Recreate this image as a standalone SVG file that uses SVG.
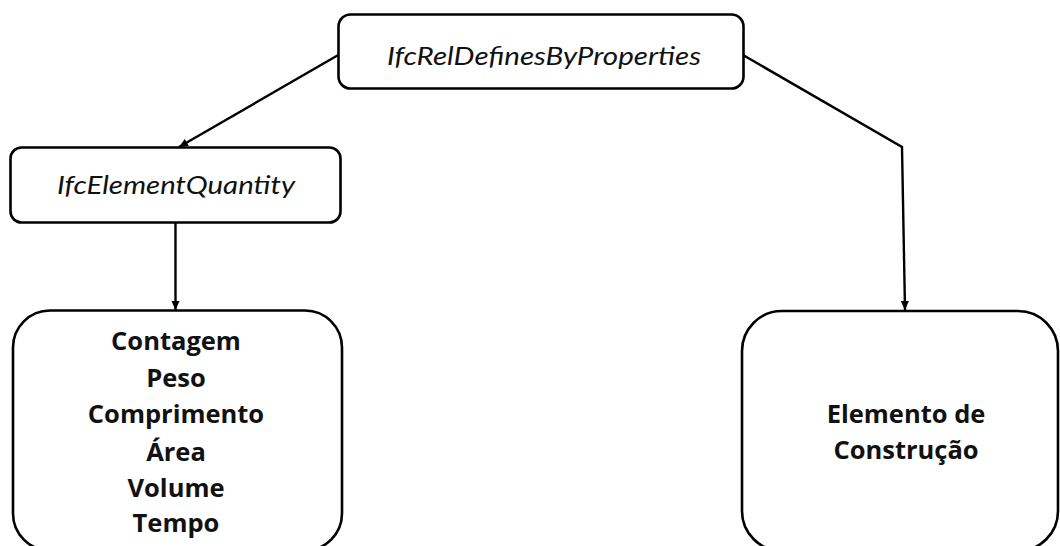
<svg xmlns="http://www.w3.org/2000/svg" width="1060" height="546" viewBox="0 0 1060 546">
<style>
.box{fill:#fff;stroke:#000;stroke-width:2.6}
.conn{fill:none;stroke:#000;stroke-width:2.4}
.it{font-family:Lato,"Open Sans","Liberation Sans",sans-serif;font-style:italic;font-size:25px;fill:#111;text-anchor:middle}
.bd{font-family:"Open Sans","Liberation Sans",sans-serif;font-weight:bold;font-size:25.5px;fill:#111;text-anchor:middle}
</style>
<defs>
<marker id="arr" viewBox="0 0 10 10" refX="10" refY="5" markerWidth="10" markerHeight="9" markerUnits="userSpaceOnUse" orient="auto">
<path d="M0,0.5 L10,5 L0,9.5 z" fill="#000"/>
</marker>
</defs>
<rect width="1060" height="546" fill="#fff"/>
<g id="connectors">
<path class="conn" d="M340,54 L179,147" marker-end="url(#arr)"/>
<path class="conn" d="M175.5,222 L175.5,310" marker-end="url(#arr)"/>
<path class="conn" d="M743,55 L902,147 L905,310" marker-end="url(#arr)"/>
</g>
<g id="node-rel">
<rect class="box" x="338.5" y="14.5" width="405" height="74" rx="12"/>
<text class="it" x="544" y="65" textLength="314" lengthAdjust="spacingAndGlyphs">IfcRelDefinesByProperties</text>
</g>
<g id="node-quantity">
<rect class="box" x="10.5" y="147.5" width="330" height="75" rx="11"/>
<text class="it" x="176" y="194" textLength="238" lengthAdjust="spacingAndGlyphs">IfcElementQuantity</text>
</g>
<g id="node-quantities">
<rect class="box" x="13" y="310.5" width="329" height="240" rx="37"/>
<text class="bd" x="176" y="350">Contagem</text>
<text class="bd" x="176" y="387">Peso</text>
<text class="bd" x="176" y="423">Comprimento</text>
<text class="bd" x="176" y="461">Área</text>
<text class="bd" x="176" y="497">Volume</text>
<text class="bd" x="176" y="532">Tempo</text>
</g>
<g id="node-element">
<rect class="box" x="742" y="311" width="316" height="240" rx="40"/>
<text class="bd" x="906" y="423">Elemento de</text>
<text class="bd" x="906" y="459">Construção</text>
</g>
</svg>
